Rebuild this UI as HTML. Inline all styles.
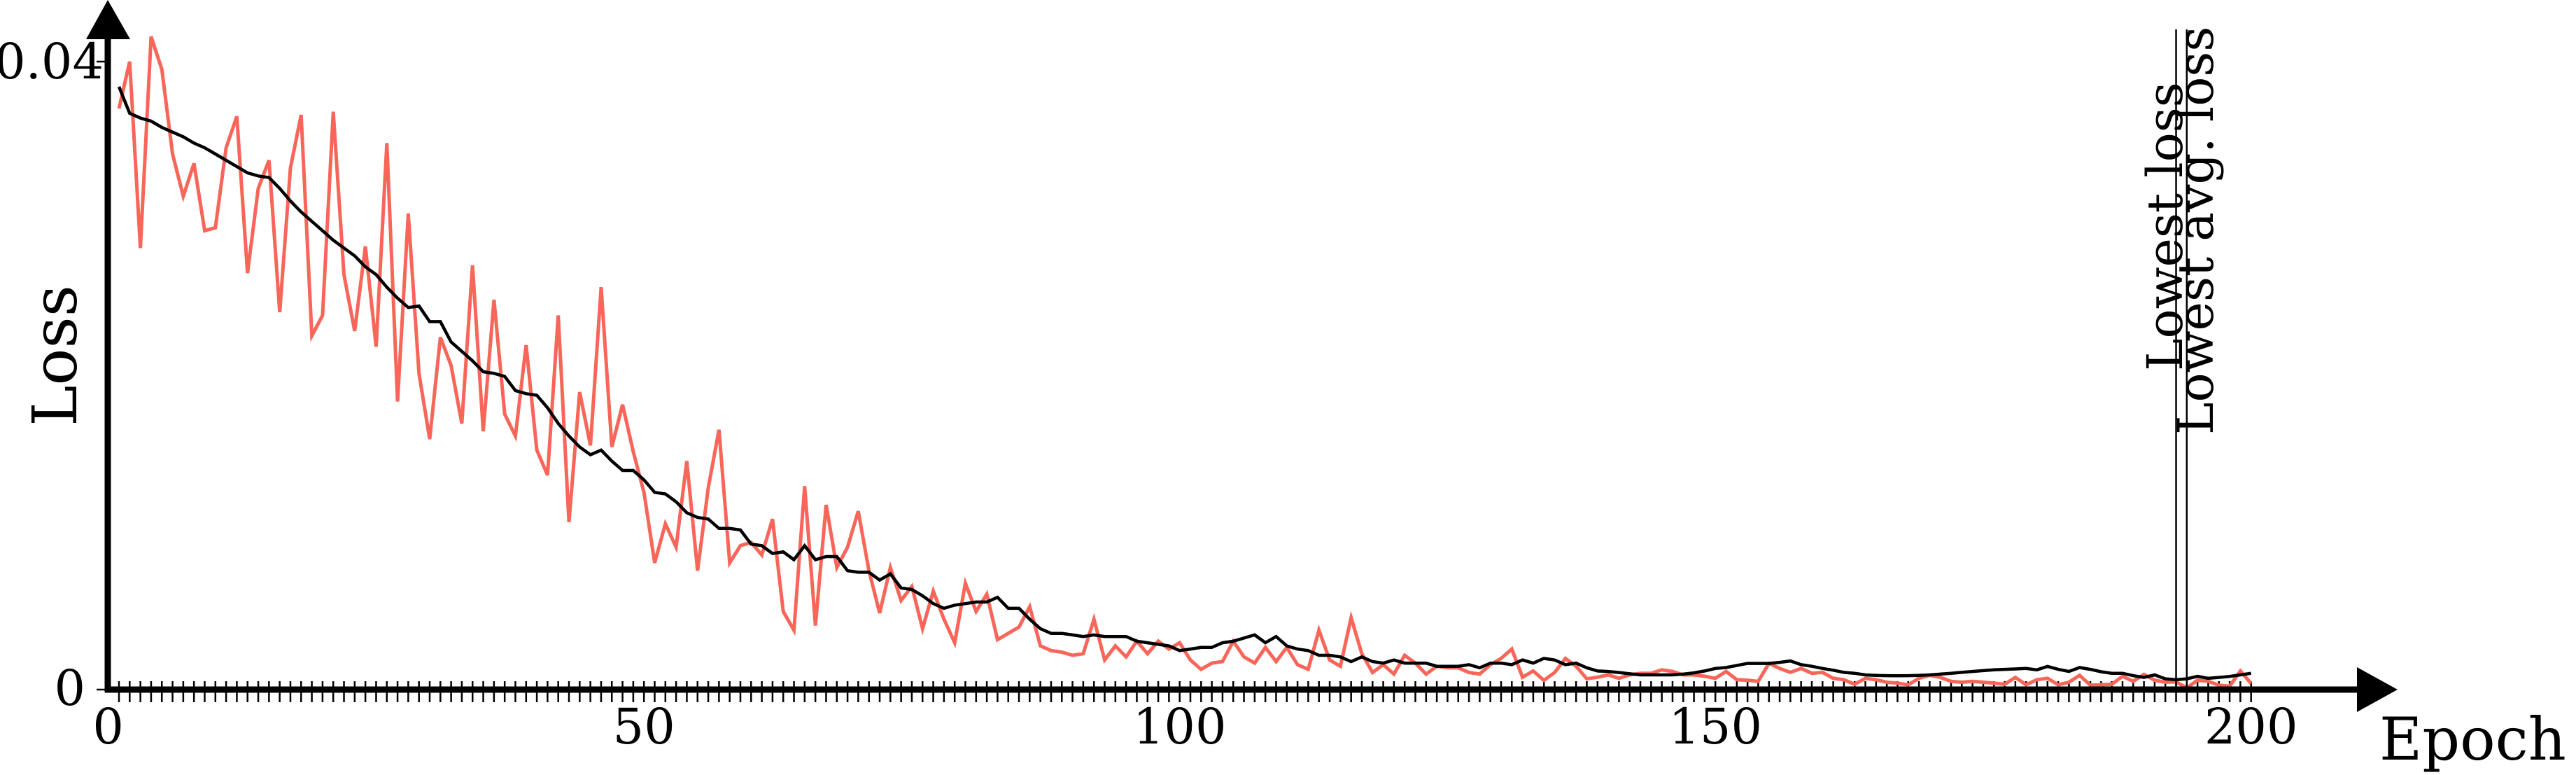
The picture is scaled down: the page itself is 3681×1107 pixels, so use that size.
<!DOCTYPE html>
<html><head><meta charset="utf-8"><style>
html,body{margin:0;padding:0;background:#fff;}
svg{display:block;}
text{font-family:"DejaVu Serif","Liberation Serif",serif;fill:#000;}
</style></head><body>
<svg id="chart" width="3681" height="1107" viewBox="0 0 3681 1107" xmlns="http://www.w3.org/2000/svg">
<g id="ticks"></g>
<g id="series"></g>
<g id="axes"></g>
</svg>
<script>
// values in units of 1e-3
const lossValues = [37.0,40.0,28.1,41.6,39.5,34.1,31.4,33.5,29.2,29.4,34.5,36.5,26.5,31.9,33.7,24.0,33.2,36.6,22.5,23.8,36.8,26.4,22.8,28.2,21.8,34.8,18.3,30.3,20.1,15.9,22.4,20.6,16.9,27.0,16.4,24.8,17.5,16.1,21.9,15.2,13.6,23.8,10.6,18.9,15.5,25.6,15.4,18.1,15.1,12.5,8.0,10.5,9.0,14.5,7.5,12.8,16.5,8.0,9.1,9.3,8.5,10.8,4.9,3.7,12.9,4.0,11.7,7.7,9.0,11.3,7.5,4.8,7.7,5.6,6.5,3.8,6.2,4.4,2.9,6.7,4.9,6.0,3.1,3.5,3.9,5.2,2.7,2.4,2.3,2.1,2.2,4.4,1.8,2.7,2.0,3.0,2.2,3.0,2.5,2.9,1.8,1.2,1.6,1.7,3.0,2.0,1.6,2.6,1.7,2.6,1.5,1.2,3.7,1.8,1.4,4.5,2.2,1.0,1.5,0.9,2.1,1.6,0.9,1.4,1.3,1.3,1.0,0.9,1.5,1.9,2.5,0.7,1.1,0.5,1.0,1.9,1.4,0.6,0.7,0.85,0.63,0.85,0.95,0.95,1.17,1.07,0.85,0.85,0.76,0.63,1.07,0.54,0.51,0.44,1.58,1.26,1.01,1.26,0.95,1.01,0.63,0.54,0.25,0.63,0.54,0.38,0.32,0.22,0.63,0.82,0.69,0.44,0.38,0.44,0.38,0.32,0.25,0.69,0.22,0.54,0.63,0.22,0.38,0.82,0.19,0.22,0.25,0.76,0.44,0.88,0.51,0.38,0.4,0.02,0.51,0.44,0.19,0.13,1.1,0.3];
const avgValues = [38.4,36.7,36.4,36.2,35.8,35.5,35.2,34.8,34.5,34.1,33.7,33.3,32.9,32.7,32.6,31.9,31.1,30.4,29.8,29.2,28.6,28.1,27.6,26.9,26.4,25.6,24.9,24.3,24.4,23.4,23.4,22.1,21.5,20.9,20.2,20.1,19.9,19.0,18.8,18.7,17.9,16.9,16.1,15.4,14.9,15.2,14.5,13.9,13.9,13.3,12.5,12.4,11.9,11.2,10.9,10.8,10.2,10.2,10.1,9.2,9.1,8.6,8.7,8.2,9.1,8.2,8.4,8.4,7.5,7.4,7.4,6.9,7.3,6.4,6.3,5.9,5.4,5.1,5.3,5.4,5.5,5.5,5.8,5.1,5.1,4.4,3.8,3.5,3.5,3.4,3.3,3.4,3.3,3.3,3.3,3.0,2.9,2.8,2.7,2.4,2.5,2.6,2.6,2.9,3.0,3.2,3.4,2.9,3.3,2.7,2.5,2.4,2.1,2.1,2.0,1.7,2.0,1.7,1.6,1.8,1.6,1.6,1.6,1.4,1.4,1.4,1.5,1.3,1.6,1.6,1.5,1.8,1.6,1.9,1.8,1.5,1.6,1.3,1.1,1.07,1.0,0.92,0.85,0.85,0.85,0.85,0.9,0.98,1.1,1.26,1.32,1.45,1.58,1.58,1.58,1.65,1.74,1.5,1.4,1.26,1.15,1.01,0.95,0.85,0.82,0.8,0.79,0.8,0.82,0.85,0.9,0.95,1.01,1.07,1.12,1.17,1.2,1.23,1.26,1.17,1.39,1.2,1.07,1.32,1.2,1.05,0.95,0.95,0.8,0.69,0.85,0.6,0.54,0.6,0.76,0.63,0.69,0.75,0.85,0.95];
const xTickValues = [0,50,100,150,200];
const xTickLabels = ["0","50","100","150","200"];
const yTickValues = [0,40];
const yTickLabels = ["0","0.04"];
const markerEpochs = [193,194];
const markerLabels = ["Lowest loss","Lowest avg. loss"];

const NS = "http://www.w3.org/2000/svg";
function x(e){ return 154.7 + 15.31*e; }
function y(v){ return 983 - 22.375*v; }
function mk(tag, attrs, parent){ const el=document.createElementNS(NS,tag); for(const k in attrs) el.setAttribute(k,attrs[k]); parent.appendChild(el); return el; }

const ticksG = document.getElementById('ticks');
for(let e=1;e<=200;e++){
  const t = mk('line',{x1:x(e),x2:x(e),y1:973,y2:1003,stroke:'#000','stroke-width':2.5},ticksG);
  
  
}

const sG = document.getElementById('series');
function pathOf(arr){ return arr.map((v,i)=>(i?'L':'M')+x(i+1).toFixed(1)+' '+y(v).toFixed(1)).join(' '); }
const red = mk('path',{d:pathOf(lossValues),fill:'none',stroke:'#f8665a','stroke-width':5,'stroke-linejoin':'miter'},sG);


const blk = mk('path',{d:pathOf(avgValues),fill:'none',stroke:'#000','stroke-width':4.5},sG);



const aG = document.getElementById('axes');
const xl = mk('line',{x1:150,x2:3375,y1:985,y2:985,stroke:'#000','stroke-width':9},aG);


const xa = mk('polygon',{points:'3368,953 3426,985 3368,1017',fill:'#000'},aG);


const yl = mk('line',{x1:154,x2:154,y1:989,y2:50,stroke:'#000','stroke-width':9},aG);


const ya = mk('polygon',{points:'123,56 154,0 186,56',fill:'#000'},aG);



xTickValues.forEach((v,i)=>{
  const t = mk('text',{x:x(v),y:1062,'font-size':70,'text-anchor':'middle'},aG);
  t.textContent = xTickLabels[i];
  
  
});
yTickValues.forEach((v,i)=>{
  const tk = mk('line',{x1:138,x2:154,y1:y(v)+ (v===0?2:0),y2:y(v)+(v===0?2:0),stroke:'#000','stroke-width':2.5},aG);
  
  
  const t = mk('text',{x:v===0?122:148,y:y(v)+(v===0?24:24),'font-size':70,'text-anchor':'end'},aG);
  t.textContent = yTickLabels[i];
  
  
});

const yt = mk('text',{x:0,y:0,'font-size':88,'text-anchor':'middle',transform:'translate(109,508) rotate(-90)'},aG);
yt.textContent = 'Loss';


const xt = mk('text',{x:3400,y:1085,'font-size':84},aG);
xt.textContent = 'Epoch';



const labelPos = [{bx:3118,sy:530},{bx:3162,sy:621}];
markerEpochs.forEach((e,i)=>{
  const l = mk('line',{x1:x(e),x2:x(e),y1:42,y2:983,stroke:'#000','stroke-width':2.5},aG);
  
  
  const t = mk('text',{x:0,y:0,'font-size':70,transform:'translate('+labelPos[i].bx+','+labelPos[i].sy+') rotate(-90)'},aG);
  t.textContent = markerLabels[i];
  
  
});
</script>
</body></html>
